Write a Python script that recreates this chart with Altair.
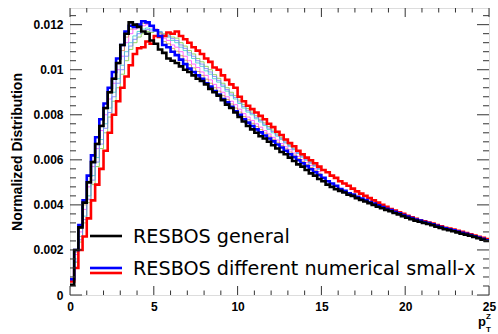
import altair as alt
import numpy as np
import pandas as pd

# bin edges: 100 bins of width 0.25 over [0, 25]
bin_width = 0.25
n_bins = 100

# values in units of 1e-5
black = [45, 200, 300, 410, 500, 590, 670, 750, 830, 900,
         960, 1030, 1110, 1160, 1210, 1200, 1190, 1170, 1160, 1130,
         1115, 1090, 1075, 1050, 1040, 1030, 1015, 1000, 990, 975,
         960, 950, 935, 915, 900, 885, 865, 845, 830, 810,
         790, 770, 750, 735, 720, 705, 695, 680, 665, 650,
         635, 625, 610, 595, 580, 570, 555, 540, 530, 515,
         505, 490, 480, 470, 462, 455, 445, 440, 430, 422,
         415, 408, 400, 392, 385, 378, 372, 364, 358, 350,
         343, 337, 330, 325, 320, 315, 310, 303, 298, 292,
         288, 283, 278, 272, 268, 263, 258, 252, 246, 240]

blue = [70, 200, 310, 420, 530, 620, 700, 780, 850, 920,
        990, 1050, 1110, 1170, 1195, 1190, 1200, 1215, 1210, 1195,
        1175, 1150, 1110, 1100, 1080, 1065, 1045, 1025, 1005, 990,
        975, 960, 940, 925, 905, 890, 870, 855, 835, 815,
        800, 780, 765, 750, 735, 722, 708, 695, 682, 668,
        655, 640, 625, 612, 598, 585, 572, 558, 545, 532,
        520, 505, 495, 485, 470, 462, 452, 446, 436, 428,
        421, 413, 406, 398, 390, 383, 377, 369, 363, 355,
        348, 342, 335, 330, 324, 319, 314, 307, 302, 296,
        292, 287, 282, 276, 272, 266, 261, 255, 249, 243]

red = [60, 120, 200, 260, 340, 420, 490, 560, 640, 720,
       800, 860, 920, 970, 1020, 1070, 1095, 1100, 1125, 1115,
       1150, 1145, 1150, 1165, 1160, 1170, 1150, 1135, 1120, 1100,
       1085, 1070, 1050, 1035, 1010, 1000, 975, 955, 935, 920,
       880, 860, 840, 825, 810, 795, 780, 760, 745, 725,
       710, 690, 675, 660, 640, 625, 610, 598, 585, 570,
       555, 545, 530, 520, 505, 495, 485, 472, 460, 450,
       440, 430, 420, 410, 400, 392, 382, 375, 367, 360,
       352, 345, 338, 332, 327, 322, 317, 310, 305, 298,
       295, 290, 285, 280, 275, 270, 264, 258, 254, 248]

# thin variations (first 60 bins, units of 1e-5)
thin_1 = [65, 180, 280, 380, 480, 570, 650, 730, 800, 870,
          940, 1000, 1060, 1120, 1160, 1180, 1190, 1195, 1200, 1190,
          1180, 1165, 1140, 1130, 1110, 1100, 1080, 1060, 1040, 1025,
          1010, 990, 975, 955, 935, 920, 900, 880, 860, 845,
          825, 805, 790, 775, 760, 745, 730, 715, 700, 688,
          672, 658, 645, 630, 615, 600, 588, 575, 560, 548]
thin_2 = [62, 160, 260, 350, 440, 530, 610, 690, 760, 830,
          900, 960, 1020, 1080, 1120, 1150, 1170, 1180, 1185, 1180,
          1175, 1170, 1150, 1145, 1130, 1120, 1100, 1085, 1065, 1050,
          1030, 1015, 995, 980, 960, 945, 925, 905, 885, 870,
          850, 830, 812, 800, 782, 768, 752, 735, 720, 705,
          690, 675, 660, 645, 628, 612, 598, 585, 572, 558]
thin_3 = [60, 145, 235, 320, 410, 490, 570, 650, 720, 790,
          860, 920, 980, 1040, 1090, 1120, 1145, 1160, 1170, 1165,
          1170, 1165, 1160, 1155, 1145, 1140, 1120, 1105, 1085, 1070,
          1050, 1035, 1015, 1000, 978, 962, 940, 920, 900, 885,
          865, 845, 828, 812, 796, 780, 764, 748, 732, 715,
          700, 684, 668, 652, 636, 620, 606, 592, 578, 564]
thin_4 = [68, 190, 295, 400, 505, 595, 675, 755, 825, 895,
          965, 1025, 1085, 1145, 1180, 1190, 1195, 1205, 1205, 1195,
          1180, 1160, 1125, 1115, 1095, 1082, 1062, 1042, 1022, 1008,
          992, 975, 958, 940, 920, 905, 885, 868, 848, 830,
          812, 792, 778, 762, 748, 734, 719, 705, 691, 678,
          663, 649, 635, 621, 606, 592, 580, 566, 553, 540]
thin_5 = [61, 150, 245, 335, 425, 510, 590, 670, 740, 810,
          880, 940, 1000, 1060, 1105, 1135, 1160, 1170, 1178, 1172,
          1172, 1168, 1155, 1150, 1138, 1130, 1110, 1095, 1075, 1060,
          1040, 1025, 1005, 990, 970, 953, 932, 912, 892, 877,
          857, 837, 820, 806, 789, 774, 758, 741, 726, 710,
          695, 679, 664, 648, 632, 616, 602, 588, 575, 561]

thin_series = [thin_1, thin_2, thin_3, thin_4, thin_5]
thin_colors = ["#ff44ff", "#33cccc", "#77cc44", "#cc9944", "#7777ff"]

x_major = [0, 5, 10, 15, 20, 25]
x_minor = [1, 2, 3, 4, 6, 7, 8, 9, 11, 12, 13, 14, 16, 17, 18, 19, 21, 22, 23, 24]
y_major = [0, 0.002, 0.004, 0.006, 0.008, 0.01, 0.012]
y_minor = [0.0004, 0.0008, 0.0012, 0.0016, 0.0024, 0.0028, 0.0032, 0.0036,
           0.0044, 0.0048, 0.0052, 0.0056, 0.0064, 0.0068, 0.0072, 0.0076,
           0.0084, 0.0088, 0.0092, 0.0096, 0.0104, 0.0108, 0.0112, 0.0116, 0.0124]

legend_1 = "RESBOS general"
legend_2 = "RESBOS different numerical small-x"

W, H = 419, 287
XMAX, YMAX = 25, 0.01274
xs = alt.Scale(domain=[0, XMAX], nice=False, zero=False)
ys = alt.Scale(domain=[0, YMAX], nice=False)

x_axis = alt.Axis(values=x_major, format="d", ticks=False, domain=False, grid=False,
                  title=None,
                  labelFont="Liberation Sans", labelFontWeight="bold",
                  labelFontSize=12, labelColor="black", labelPadding=6,
                  labelFlush=False)
y_axis = alt.Axis(values=y_major, format="~g", ticks=False, domain=False, grid=False,
                  title="Normalized Distribution", titleFont="Liberation Sans",
                  titleFontWeight="bold", titleFontSize=14, titleColor="black",
                  titlePadding=8,
                  labelFont="Liberation Sans", labelFontWeight="bold",
                  labelFontSize=12, labelColor="black", labelPadding=7,
                  labelFlush=False)


def X(field="x"):
    return alt.X(f"{field}:Q", scale=xs, axis=x_axis, title=None)


def Y(field="y"):
    return alt.Y(f"{field}:Q", scale=ys, axis=y_axis, title="Normalized Distribution")


def hist_df(vals, name):
    edges = [i * bin_width for i in range(len(vals) + 1)]
    v = [x * 1e-5 for x in vals] + [vals[-1] * 1e-5]
    return pd.DataFrame({"x": edges, "y": v, "s": name})


def step_line(df, color, width, opacity=1.0):
    return alt.Chart(df).mark_line(
        interpolate="step-after", color=color, strokeWidth=width,
        opacity=opacity, clip=True
    ).encode(x=X(), y=Y())


layers = []

for vals, col in zip(thin_series, thin_colors):
    layers.append(step_line(hist_df(vals, "thin"), col, 1, 0.8))

layers.append(step_line(hist_df(red, "red"), "#ff0000", 2.6))
layers.append(step_line(hist_df(blue, "blue"), "#0000ff", 2.6))
layers.append(step_line(hist_df(black, "black"), "#000000", 2.6))

# inward ticks
xmaj = pd.DataFrame({"x": x_major})
xmin = pd.DataFrame({"x": x_minor})
ymaj = pd.DataFrame({"y": y_major})
ymin = pd.DataFrame({"y": y_minor})
tick_col = "#333333"


def xticks(df, length):
    b = alt.Chart(df).mark_rule(color=tick_col, strokeWidth=1).encode(
        x=X(), y=alt.value(H), y2=alt.value(H - length))
    t = alt.Chart(df).mark_rule(color=tick_col, strokeWidth=1).encode(
        x=X(), y=alt.value(0), y2=alt.value(length))
    return [b, t]


def yticks(df, length):
    l = alt.Chart(df).mark_rule(color=tick_col, strokeWidth=1).encode(
        y=Y(), x=alt.value(0), x2=alt.value(length))
    r = alt.Chart(df).mark_rule(color=tick_col, strokeWidth=1).encode(
        y=Y(), x=alt.value(W), x2=alt.value(W - length))
    return [l, r]


layers += xticks(xmaj, 9) + xticks(xmin, 4.5) + yticks(ymaj, 12) + yticks(ymin, 6)

# legend
leg_df = pd.DataFrame({"a": [0]})
layers.append(alt.Chart(leg_df).mark_rule(color="black", strokeWidth=2.6).encode(
    x=alt.value(20), x2=alt.value(52), y=alt.value(228)))
layers.append(alt.Chart(leg_df).mark_rule(color="#0000ff", strokeWidth=2.6).encode(
    x=alt.value(20), x2=alt.value(52), y=alt.value(260)))
layers.append(alt.Chart(leg_df).mark_rule(color="#ff0000", strokeWidth=2.6).encode(
    x=alt.value(20), x2=alt.value(52), y=alt.value(265)))
layers.append(alt.Chart(pd.DataFrame({"t": [legend_1]})).mark_text(
    align="left", baseline="middle", font="DejaVu Sans", fontSize=19.2, color="black").encode(
    x=alt.value(63), y=alt.value(229), text="t:N"))
layers.append(alt.Chart(pd.DataFrame({"t": [legend_2]})).mark_text(
    align="left", baseline="middle", font="DejaVu Sans", fontSize=19.2, color="black").encode(
    x=alt.value(63), y=alt.value(261), text="t:N"))

# x title p_T^Z
layers.append(alt.Chart(pd.DataFrame({"t": ["p"]})).mark_text(
    align="left", baseline="alphabetic", font="Liberation Sans", fontWeight="bold",
    fontSize=13, color="black").encode(x=alt.value(408), y=alt.value(318), text="t:N"))
layers.append(alt.Chart(pd.DataFrame({"t": ["Z"]})).mark_text(
    align="left", baseline="alphabetic", font="Liberation Sans", fontWeight="bold",
    fontSize=8, color="black").encode(x=alt.value(416), y=alt.value(311), text="t:N"))
layers.append(alt.Chart(pd.DataFrame({"t": ["T"]})).mark_text(
    align="left", baseline="alphabetic", font="Liberation Sans", fontWeight="bold",
    fontSize=8, color="black").encode(x=alt.value(416), y=alt.value(324), text="t:N"))

chart = alt.layer(*layers).properties(
    width=W, height=H,
    autosize=alt.AutoSizeParams(type="none"),
    padding={"left": 70, "top": 8, "right": 9, "bottom": 39},
).configure_view(stroke="black", strokeWidth=1.2).configure(background="white")

chart.save("out.html", embed_options={"renderer": "svg", "actions": False})
